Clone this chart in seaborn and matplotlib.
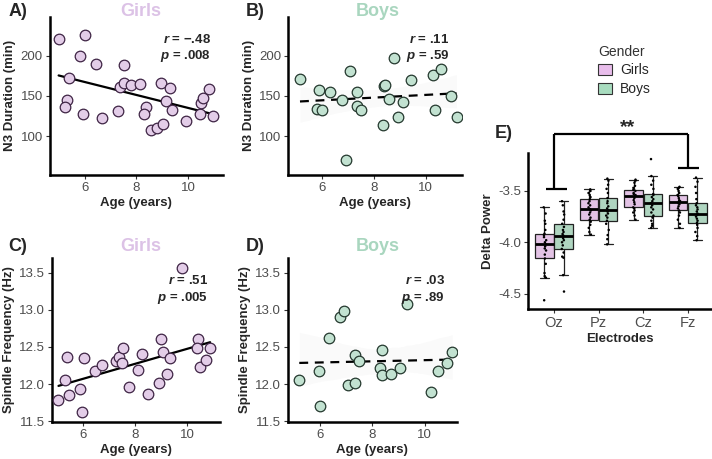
import numpy as np
import pandas as pd
import matplotlib
matplotlib.use("Agg")
import matplotlib.pyplot as plt
import seaborn as sns
from matplotlib.patches import Patch

# Panel A/B - N3 duration vs age
girls_age_n3 = [4.99, 6.0, 5.83, 6.43, 7.52, 5.39, 5.33, 5.24, 5.92, 6.68, 7.28, 7.35, 7.52, 7.81, 8.13,
                8.39, 8.30, 8.55, 8.80, 9.05, 8.97, 9.32, 9.14, 9.39, 9.91, 10.48, 10.50, 10.58, 10.81, 10.98]
girls_n3 = [221, 226, 199, 190, 188, 172, 145, 136, 128, 122, 131, 161, 166, 164, 165,
            136, 128, 108, 110, 115, 166, 160, 144, 133, 119, 127, 141, 147, 159, 125]
boys_age_n3 = [5.17, 5.91, 5.83, 6.01, 6.33, 6.77, 7.09, 7.34, 7.34, 7.51, 6.93, 8.39,
               8.43, 8.36, 8.59, 8.77, 8.94, 9.11, 9.45, 10.28, 10.37, 10.60, 10.95, 11.18]
boys_n3 = [171, 157, 134, 133, 155, 145, 181, 155, 137, 133, 70, 162,
           164, 114, 146, 197, 124, 143, 170, 176, 132, 183, 150, 124]

# Panel C/D - spindle frequency vs age
girls_age_sp = [5.05, 5.29, 5.38, 5.46, 5.87, 5.97, 6.05, 6.45, 6.71, 7.26, 7.36, 7.51, 7.54, 7.77,
                8.09, 8.26, 8.51, 8.91, 9.00, 9.08, 9.23, 9.33, 9.81, 10.40, 10.38, 10.49, 10.72, 10.88]
girls_sp = [11.79, 12.06, 12.37, 11.85, 11.93, 11.62, 12.35, 12.17, 12.25, 12.31, 12.36, 12.29, 12.48, 11.96,
            12.19, 12.41, 11.87, 12.02, 12.61, 12.43, 12.13, 12.35, 13.57, 12.61, 12.48, 12.23, 12.33, 12.49]
boys_age_sp = [5.21, 5.95, 6.00, 6.33, 6.75, 6.93, 7.07, 7.33, 7.33, 7.49,
               8.36, 8.29, 8.36, 8.70, 9.05, 9.34, 10.25, 10.51, 10.83, 11.05]
boys_sp = [12.05, 12.18, 11.71, 12.62, 12.91, 12.98, 11.98, 12.39, 12.01, 12.31,
           12.46, 12.21, 12.12, 12.13, 12.21, 13.08, 11.89, 12.17, 12.29, 12.43]

# Panel E - delta power by electrode
electrodes = ["Oz", "Pz", "Cz", "Fz"]
delta_girls = {
    "Oz": [-4.565, -4.345, -4.33, -4.30, -4.21, -4.158, -4.12, -4.08, -4.06, -4.04, -4.02,
           -4.00, -3.98, -3.95, -3.93, -3.916, -3.88, -3.82, -3.79, -3.72, -3.66],
    "Pz": [-3.925, -3.90, -3.86, -3.83, -3.80, -3.78, -3.76, -3.73, -3.71, -3.69, -3.677,
           -3.66, -3.64, -3.62, -3.60, -3.58, -3.56, -3.54, -3.52, -3.50, -3.485],
    "Cz": [-3.78, -3.74, -3.71, -3.69, -3.67, -3.66, -3.63, -3.61, -3.59, -3.57, -3.55,
           -3.54, -3.53, -3.52, -3.50, -3.49, -3.47, -3.45, -3.42, -3.40, -3.39],
    "Fz": [-3.86, -3.82, -3.78, -3.74, -3.71, -3.69, -3.67, -3.65, -3.63, -3.62, -3.61,
           -3.60, -3.59, -3.57, -3.55, -3.54, -3.52, -3.50, -3.48, -3.47, -3.46],
}
delta_boys = {
    "Oz": [-4.48, -4.32, -4.15, -4.14, -4.10, -4.065, -4.03, -4.00, -3.98, -3.96, -3.935,
           -3.92, -3.90, -3.88, -3.85, -3.82, -3.78, -3.73, -3.70, -3.64, -3.60],
    "Pz": [-4.02, -3.97, -3.93, -3.88, -3.82, -3.79, -3.76, -3.74, -3.72, -3.70, -3.69,
           -3.67, -3.65, -3.62, -3.60, -3.57, -3.52, -3.48, -3.44, -3.40, -3.38],
    "Cz": [-3.86, -3.84, -3.82, -3.79, -3.76, -3.74, -3.71, -3.68, -3.66, -3.64, -3.62,
           -3.60, -3.58, -3.56, -3.54, -3.53, -3.48, -3.44, -3.40, -3.355, -3.19],
    "Fz": [-3.98, -3.94, -3.90, -3.86, -3.83, -3.81, -3.79, -3.77, -3.75, -3.73, -3.72,
           -3.70, -3.68, -3.66, -3.64, -3.62, -3.58, -3.52, -3.46, -3.41, -3.37],
}

GIRL_FILL = "#e3cde8"
GIRL_EDGE = "#3e2444"
BOY_FILL = "#c2e2d1"
BOY_EDGE = "#24382e"
GIRL_BOX = "#e8bdeb"
BOY_BOX = "#a8dcbf"
GIRL_TITLE = "#dcc2e6"
BOY_TITLE = "#a9d6bf"

sns.set_style("white")
plt.rcParams["font.family"] = ["Liberation Sans", "DejaVu Sans"]
plt.rcParams["mathtext.fontset"] = "custom"
plt.rcParams["mathtext.it"] = "Liberation Sans:italic:bold"
plt.rcParams["mathtext.rm"] = "Liberation Sans:bold"

fig = plt.figure(figsize=(7.12, 4.59), dpi=100)


def style_axis(ax):
    sns.despine(ax=ax)
    for s in ["left", "bottom"]:
        ax.spines[s].set_linewidth(1.8)
        ax.spines[s].set_color("black")
    ax.tick_params(axis="both", direction="out", length=3, width=0.8,
                   labelsize=9.5, labelcolor="#4d4d4d", color="#333333",
                   bottom=True, left=True, pad=2)


def scatter_panel(rect, x, y, fill, edge, dashed, xlim, ylim, yticks, ylabel, r_txt, p_txt):
    ax = fig.add_axes(rect)
    df = pd.DataFrame({"x": x, "y": y})
    sns.regplot(data=df, x="x", y="y", ax=ax, scatter=False,
                ci=95 if dashed else None, color="black",
                line_kws={"lw": 1.6, "ls": (0, (4, 3)) if dashed else "-"})
    if dashed:
        for c in ax.collections:
            c.set_alpha(0.02)
    sns.scatterplot(data=df, x="x", y="y", ax=ax, s=58, color=fill,
                    edgecolor=edge, linewidth=0.9, zorder=3)
    ax.set_xlim(*xlim)
    ax.set_ylim(*ylim)
    ax.set_xticks([6, 8, 10])
    ax.set_yticks(yticks)
    ax.set_xlabel("Age (years)", fontsize=9.5, fontweight="bold", labelpad=2)
    ax.set_ylabel(ylabel, fontsize=9.5, fontweight="bold", labelpad=3)
    style_axis(ax)
    ax.text(0.93, 0.86, r_txt, transform=ax.transAxes, ha="right", va="center",
            fontsize=9.5, fontweight="bold")
    ax.text(0.93, 0.755, p_txt, transform=ax.transAxes, ha="right", va="center",
            fontsize=9.5, fontweight="bold")
    return ax


scatter_panel([0.070, 0.619, 0.243, 0.344], girls_age_n3, girls_n3, GIRL_FILL, GIRL_EDGE, False,
              (4.65, 11.35), (52, 248), [100, 150, 200], "N3 Duration (min)",
              "$r$ = \u2212.48", "$p$ = .008")
scatter_panel([0.4045, 0.619, 0.244, 0.344], boys_age_n3, boys_n3, BOY_FILL, BOY_EDGE, True,
              (4.71, 11.38), (52, 248), [100, 150, 200], "N3 Duration (min)",
              "$r$ = .11", "$p$ = .59")
scatter_panel([0.073, 0.081, 0.236, 0.357], girls_age_sp, girls_sp, GIRL_FILL, GIRL_EDGE, False,
              (4.8, 11.26), (11.49, 13.7), [11.5, 12.0, 12.5, 13.0, 13.5], "Spindle Frequency (Hz)",
              "$r$ = .51", "$p$ = .005")
scatter_panel([0.4045, 0.081, 0.237, 0.357], boys_age_sp, boys_sp, BOY_FILL, BOY_EDGE, True,
              (4.78, 11.22), (11.49, 13.7), [11.5, 12.0, 12.5, 13.0, 13.5], "Spindle Frequency (Hz)",
              "$r$ = .03", "$p$ = .89")

# panel letters and group titles
for x, y, t in [(0.012, 0.974, "A)"), (0.345, 0.974, "B)"), (0.012, 0.462, "C)"),
                (0.345, 0.462, "D)"), (0.695, 0.71, "E)")]:
    fig.text(x, y, t, fontsize=13, fontweight="bold", va="center")
for x, y, t, c in [(0.197, 0.974, "Girls", GIRL_TITLE), (0.53, 0.974, "Boys", BOY_TITLE),
                   (0.197, 0.462, "Girls", GIRL_TITLE), (0.53, 0.462, "Boys", BOY_TITLE)]:
    fig.text(x, y, t, fontsize=13, fontweight="bold", va="center", ha="center", color=c)

# Panel E
rows = []
for e in electrodes:
    for v in delta_girls[e]:
        rows.append((e, "Girls", v))
    for v in delta_boys[e]:
        rows.append((e, "Boys", v))
dfe = pd.DataFrame(rows, columns=["Electrodes", "Gender", "Delta"])

axe = fig.add_axes([0.7416, 0.3268, 0.257, 0.340])
pal = {"Girls": GIRL_BOX, "Boys": BOY_BOX}
sns.boxplot(data=dfe, x="Electrodes", y="Delta", hue="Gender", order=electrodes,
            hue_order=["Girls", "Boys"], palette=pal, ax=axe, width=0.86, gap=0.04,
            fliersize=0, linewidth=0.9, linecolor="#222222",
            medianprops={"color": "black", "linewidth": 2}, legend=False)
sns.stripplot(data=dfe, x="Electrodes", y="Delta", hue="Gender", order=electrodes,
              hue_order=["Girls", "Boys"], dodge=True, jitter=0.06, size=1.8,
              palette={"Girls": "black", "Boys": "black"}, ax=axe, legend=False)
axe.set_xlim(-0.58, 3.52)
axe.set_ylim(-4.65, -3.13)
axe.set_yticks([-4.5, -4.0, -3.5])
axe.set_yticklabels(["-4.5", "-4.0", "-3.5"])
axe.set_xlabel("Electrodes", fontsize=9.5, fontweight="bold", labelpad=2)
axe.set_ylabel("Delta Power", fontsize=9.5, fontweight="bold", labelpad=3)
style_axis(axe)
axe.tick_params(axis="x", labelsize=10.5)

# significance bracket
bk = dict(color="black", lw=1.6, clip_on=False, solid_capstyle="butt")
axe.plot([0, 3], [-2.947, -2.947], **bk)
axe.plot([0, 0], [-2.947, -3.48], **bk)
axe.plot([-0.18, 0.29], [-3.48, -3.48], **bk)
axe.plot([3, 3], [-2.947, -3.28], **bk)
axe.plot([2.78, 3.25], [-3.28, -3.28], **bk)
axe.text(1.64, -2.965, "**", ha="center", va="bottom", fontsize=14, fontweight="bold",
         clip_on=False)

handles = [Patch(facecolor=GIRL_BOX, edgecolor="#333333", lw=0.8),
           Patch(facecolor=BOY_BOX, edgecolor="#333333", lw=0.8)]
leg = fig.legend(handles, ["Girls", "Boys"], title="Gender", loc="upper left",
                 bbox_to_anchor=(0.822, 0.93), frameon=False, fontsize=10,
                 title_fontsize=10, handlelength=1.0, handleheight=0.9,
                 handletextpad=0.6, labelspacing=0.35, alignment="left")
leg.get_title().set_color("#333333")

fig.savefig("out.png", dpi=100)
